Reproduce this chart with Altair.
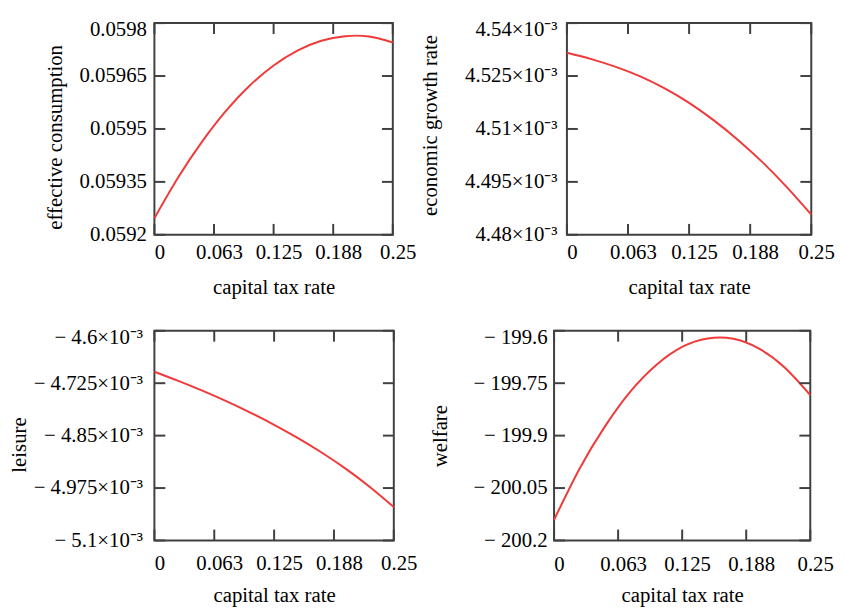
import altair as alt
import pandas as pd

# ---- data ----
tax_rate = [0, 0.025, 0.05, 0.075, 0.1, 0.125, 0.15, 0.175, 0.2, 0.225, 0.25]

effective_consumption = [0.059247, 0.059363, 0.059464, 0.059551, 0.059623, 0.059680,
                         0.059722, 0.059750, 0.059763, 0.059762, 0.059745]
growth_rate = [0.0045316, 0.0045298, 0.0045276, 0.0045249, 0.0045215, 0.0045174,
               0.0045125, 0.0045069, 0.0045006, 0.0044935, 0.0044857]
leisure = [-0.0046976, -0.0047195, -0.0047429, -0.0047679, -0.0047950, -0.0048242,
           -0.0048560, -0.0048909, -0.0049294, -0.0049726, -0.0050205]
welfare = [-200.141, -199.994, -199.872, -199.772, -199.697, -199.646,
           -199.622, -199.623, -199.651, -199.705, -199.784]

x_ticks = [0, 0.0625, 0.125, 0.1875, 0.25]
cons_ticks = [0.0592, 0.05935, 0.0595, 0.05965, 0.0598]
growth_ticks = [0.00448, 0.004495, 0.00451, 0.004525, 0.00454]
leisure_ticks = [-0.0051, -0.004975, -0.00485, -0.004725, -0.0046]
welfare_ticks = [-200.2, -200.05, -199.9, -199.75, -199.6]

FONT = "Liberation Serif"
FRAME = "#404040"
LINE = "#f03a3a"
TICK = 11
ROW_H = 214


def panel(values, yticks, ytitle, width, height, label_fmt=None, label_expr=None,
          y_extent=80, y_title_pad=10, y_label_pad=8, x_label_pad=7, x_title_pad=14,
          title_shift=0):
    df = pd.DataFrame({"x": tax_rate, "y": values})
    ymin, ymax = min(yticks), max(yticks)
    eps = (ymax - ymin) * 1e-4
    xscale = alt.Scale(domain=[0, 0.25], nice=False, zero=False)
    yscale = alt.Scale(domain=[ymin, ymax], nice=False, zero=False)

    xaxis = alt.Axis(values=x_ticks, format=".3~f", title="capital tax rate",
                     labelFlush=False, labelOffset=5, labelPadding=x_label_pad,
                     titlePadding=x_title_pad)
    yargs = dict(values=yticks, title=ytitle, labelPadding=y_label_pad,
                 minExtent=y_extent, maxExtent=y_extent, titlePadding=y_title_pad,
                 labelOffset={"condition": {"test": f"datum.value > {ymax - eps}", "value": 7},
                              "value": 0},
                 titleY=height / 2 + title_shift)
    if label_fmt:
        yargs["format"] = label_fmt
    if label_expr:
        yargs["labelExpr"] = label_expr
    yaxis = alt.Axis(**yargs)

    line = alt.Chart(df).mark_line(color=LINE, strokeWidth=2, interpolate="natural").encode(
        x=alt.X("x:Q", scale=xscale, axis=xaxis, title="capital tax rate"),
        y=alt.Y("y:Q", scale=yscale, axis=yaxis, title=ytitle),
    )
    xt = pd.DataFrame({"t": x_ticks})
    yt = pd.DataFrame({"t": yticks})
    rule = dict(color=FRAME, strokeWidth=2)
    bottom = alt.Chart(xt).mark_rule(**rule).encode(
        x=alt.X("t:Q", scale=xscale),
        y=alt.value(height), y2=alt.value(height - TICK))
    top = alt.Chart(xt).mark_rule(**rule).encode(
        x=alt.X("t:Q", scale=xscale),
        y=alt.value(0), y2=alt.value(TICK))
    left = alt.Chart(yt).mark_rule(**rule).encode(
        y=alt.Y("t:Q", scale=yscale),
        x=alt.value(0), x2=alt.value(TICK))
    right = alt.Chart(yt).mark_rule(**rule).encode(
        y=alt.Y("t:Q", scale=yscale),
        x=alt.value(width - TICK), x2=alt.value(width))
    return alt.layer(line, bottom, top, left, right).properties(width=width, height=height)


p1 = panel(effective_consumption, cons_ticks, "effective consumption", 241, ROW_H,
           label_fmt=".5~f", y_extent=80, y_title_pad=10, y_label_pad=8,
           x_label_pad=7, x_title_pad=14, title_shift=8)
p2 = panel(growth_rate, growth_ticks, "economic growth rate", 247, ROW_H,
           label_expr="format(datum.value*1000, '.3~f') + '×10⁻³'",
           y_extent=116, y_title_pad=12, y_label_pad=10,
           x_label_pad=7, x_title_pad=14, title_shift=-4)
p3 = panel(leisure, leisure_ticks, "leisure", 242, 212,
           label_expr="'− ' + format(-datum.value*1000, '.3~f') + '×10⁻³'",
           y_extent=116, y_title_pad=10, y_label_pad=12,
           x_label_pad=12, x_title_pad=12, title_shift=9)
p4 = panel(welfare, welfare_ticks, "welfare", 259, 212,
           label_expr="'− ' + format(-datum.value, '.2~f')",
           y_extent=96, y_title_pad=9, y_label_pad=7,
           x_label_pad=13, x_title_pad=11, title_shift=0)

row1 = alt.hconcat(p1, p2, spacing=176, bounds="flush")
row2 = alt.hconcat(p3, p4, spacing=162, bounds="flush")

chart = alt.vconcat(row1, row2, spacing=ROW_H + 97, bounds="flush").properties(
    padding={"left": 0, "top": 7, "right": 0, "bottom": 0}
).configure_axis(
    labelFont=FONT, titleFont=FONT, labelFontSize=21, titleFontSize=21,
    labelColor="black", titleColor="black", titleFontWeight="normal",
    grid=False, ticks=False, tickSize=0, domain=False,
).configure_view(stroke=FRAME, strokeWidth=2)

chart.save("out.html", embed_options={"renderer": "svg", "actions": False})
